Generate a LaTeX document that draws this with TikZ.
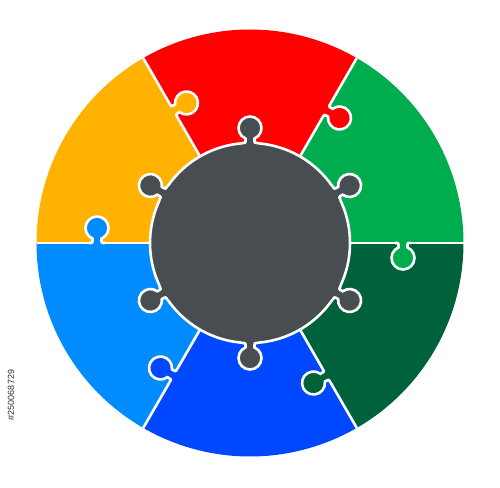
\documentclass[tikz,border=0pt]{standalone}
\usepackage{fontspec}
\setmainfont{Liberation Sans}
\usetikzlibrary{calc}
\definecolor{cred}{HTML}{FF0000}
\definecolor{cgreen}{HTML}{00AD4E}
\definecolor{cdgreen}{HTML}{00623A}
\definecolor{cblue}{HTML}{0048FF}
\definecolor{clblue}{HTML}{008CFF}
\definecolor{cyellow}{HTML}{FFB300}
\definecolor{cgray}{HTML}{474D51}
\newcommand\tabline{(-7.8,0) .. controls (-4.5,0) .. (-4.5,3.2) -- (-4.5,4.42) arc[start angle=246.96, end angle=-66.96, radius=11.5] -- (4.5,3.2) .. controls (4.5,0) .. (7.8,0)}
\newcommand\tabfill{\tabline -- (7.8,-2.5) -- (-7.8,-2.5) -- cycle}
\begin{document}
\begin{tikzpicture}[x=1pt,y=1pt,
  wline/.style={draw=white,line width=2.6pt}]
\useasboundingbox (0,0) rectangle (500,487);
\coordinate (C) at (250,244);
\def\R{213.5}
\def\r{100}
% sectors
\foreach \a/\c in {0/cgreen,60/cred,120/cyellow,180/clblue,240/cblue,300/cdgreen}{
  \fill[\c] (C) -- ++(\a:\R) arc[start angle=\a, end angle=\a+60, radius=\R] -- cycle;
}
% hub
\fill[cgray] (C) circle[radius=\r];
% white separators
\foreach \a in {0,60,...,300}{
  \draw[wline] ($(C)+(\a:\r)$) -- ($(C)+(\a:\R)$);
}
\draw[wline] (C) circle[radius=\r];
% tabs between sectors
\foreach \a/\c in {0/cgreen,60/cred,120/cyellow,180/clblue,240/cblue,300/cdgreen}{
  \begin{scope}[shift={($(C)+(\a:153)$)}, rotate=\a+180]
    \fill[\c] \tabfill;
    \draw[wline] \tabline;
  \end{scope}
}
% hub knobs
\foreach \a in {90,30,-30,-90,-150,150}{
  \begin{scope}[shift={($(C)+(\a:\r)$)}, rotate=\a-90]
    \fill[cgray] \tabfill;
    \draw[wline] \tabline;
  \end{scope}
}
\node[rotate=90, font=\fontsize{9}{9}\selectfont, text=black!80, inner sep=0pt] (id) at (11,92) {\#250068729};
\end{tikzpicture}
\end{document}
